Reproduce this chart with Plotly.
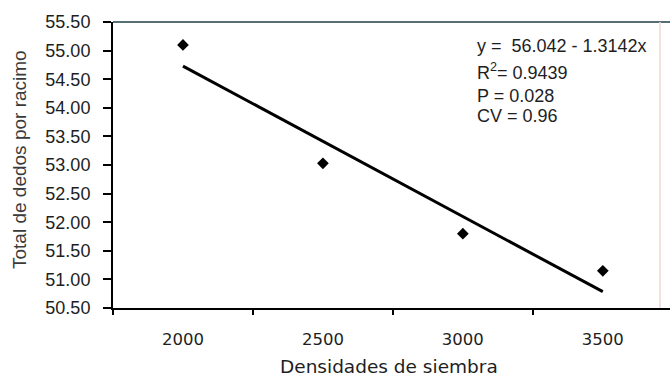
import plotly.graph_objects as go

# Planting densities and observed fingers per bunch
densidades = ["2000", "2500", "3000", "3500"]
dedos = [55.10, 53.03, 51.80, 51.15]

# Linear fit: y = a + b*x, with x = 1..4 for the density levels
intercepto = 56.042
pendiente = -1.3142
x_orden = [1, 2, 3, 4]
ajuste = [intercepto + pendiente * x for x in x_orden]

y_ticks = [50.5, 51.0, 51.5, 52.0, 52.5, 53.0, 53.5, 54.0, 54.5, 55.0, 55.5]

stats_lines = [
    "y =  56.042 - 1.3142x",
    "R<sup>2</sup>= 0.9439",
    "P = 0.028",
    "CV = 0.96",
]
stats_y = [0.916, 0.826, 0.741, 0.672]

fig = go.Figure()

fig.add_trace(go.Scatter(
    x=densidades, y=ajuste, mode="lines",
    line=dict(color="black", width=3),
    showlegend=False, hoverinfo="skip",
))
fig.add_trace(go.Scatter(
    x=densidades, y=dedos, mode="markers",
    marker=dict(symbol="diamond", size=9, color="black"),
    showlegend=False,
))

fig.update_layout(
    width=670, height=378,
    margin=dict(l=113, r=0, t=22, b=70),
    paper_bgcolor="white", plot_bgcolor="white",
    font=dict(family="Liberation Sans, Arial", color="#1e1e1e"),
)

fig.update_xaxes(
    type="category",
    range=[-0.5, 3.48],
    showgrid=False, zeroline=False,
    showline=True, linecolor="black", linewidth=2,
    ticks="outside", tickson="boundaries", ticklen=5, tickwidth=1.5, tickcolor="black",
    ticklabelstandoff=15,
    tickfont=dict(family="DejaVu Sans", size=16.5, color="#1e1e1e"),
)
fig.update_yaxes(
    range=[50.5, 55.5],
    tickvals=y_ticks, ticktext=[f"{v:.2f}" for v in y_ticks],
    showgrid=False, zeroline=False,
    showline=True, linecolor="black", linewidth=2,
    ticks="outside", ticklen=8, tickwidth=1.5, tickcolor="black",
    ticklabelstandoff=9,
    tickfont=dict(family="Liberation Sans, Arial", size=18, color="#1e1e1e"),
)

# Axis titles
fig.add_annotation(
    xref="paper", yref="paper", x=-0.167, y=0.521, textangle=-90,
    xanchor="center", yanchor="middle", showarrow=False,
    text="Total de dedos por racimo",
    font=dict(family="Liberation Sans, Arial", size=19, color="#3a3a3a"),
)
fig.add_annotation(
    xref="paper", yref="paper", x=0.4955, y=-0.206,
    xanchor="center", yanchor="middle", showarrow=False,
    text="Densidades de siembra",
    font=dict(family="DejaVu Sans", size=18.5, color="#1e1e1e"),
)

# Frame: dark top edge, light right edge
fig.add_shape(type="line", xref="paper", yref="paper", x0=0, x1=1, y0=1, y1=1,
              line=dict(color="#566f75", width=2))
fig.add_shape(type="line", xref="paper", yref="paper", x0=0.982, x1=0.982, y0=0, y1=1,
              line=dict(color="#f2d6d0", width=1.5))

for txt, yy in zip(stats_lines, stats_y):
    fig.add_annotation(
        xref="paper", yref="paper", x=0.65, y=yy,
        xanchor="left", yanchor="middle", showarrow=False,
        text=txt, font=dict(family="Liberation Sans, Arial", size=18, color="#1e1e1e"),
    )

fig.write_html("out.html")
